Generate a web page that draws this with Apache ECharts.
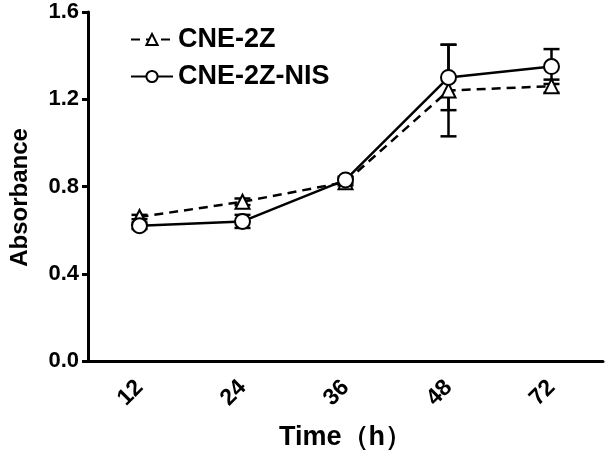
<!DOCTYPE html>
<html>
<head>
<meta charset="utf-8">
<script src="https://cdn.jsdelivr.net/npm/echarts@6/dist/echarts.min.js"></script>
<style>
  html, body { margin: 0; padding: 0; background: #fff; }
  #chart { width: 616px; height: 454px; }
</style>
</head>
<body>
<div id="chart"></div>
<script>
// 数据
const times = ["12", "24", "36", "48", "72"];
const cneMean = [0.66, 0.73, 0.82, 1.24, 1.26];
const cneSd = [0.01, 0.015, 0.015, 0.21, 0.03];
const nisMean = [0.62, 0.64, 0.83, 1.30, 1.35];
const nisSd = [0.015, 0.03, 0.015, 0.15, 0.08];

const FONT = "Liberation Sans";

// 误差棒
function errorSeries(mean, sd, z) {
  return {
    type: "custom",
    z: z,
    silent: true,
    data: mean.map((m, i) => [i, m - sd[i], m + sd[i]]),
    renderItem: function (params, api) {
      const lo = api.coord([api.value(0), api.value(1)]);
      const hi = api.coord([api.value(0), api.value(2)]);
      const hw = 8;
      const style = { stroke: "#000", lineWidth: 2.5 };
      return {
        type: "group",
        children: [
          { type: "line", shape: { x1: lo[0], y1: lo[1], x2: hi[0], y2: hi[1] }, style: style },
          { type: "line", shape: { x1: lo[0] - hw, y1: lo[1], x2: lo[0] + hw, y2: lo[1] }, style: style },
          { type: "line", shape: { x1: hi[0] - hw, y1: hi[1], x2: hi[0] + hw, y2: hi[1] }, style: style },
        ],
      };
    },
  };
}

let myChart = echarts.init(document.getElementById("chart"));
myChart.setOption({
  animation: false,
  grid: { left: 88, right: 13, top: 12, bottom: 93, outerBoundsMode: "none" },
  legend: {
    orient: "vertical",
    left: 125,
    top: 21,
    itemWidth: 42,
    itemHeight: 14,
    itemGap: 10,
    textStyle: { fontFamily: FONT, fontWeight: "bold", fontSize: 27, color: "#000" },
    data: ["CNE-2Z", "CNE-2Z-NIS"],
  },
  xAxis: {
    type: "category",
    data: times,
    boundaryGap: true,
    name: "Time（h）",
    nameLocation: "middle",
    nameGap: 63,
    nameTextStyle: { fontFamily: FONT, fontWeight: "bold", fontSize: 27, color: "#000" },
    axisLine: { lineStyle: { color: "#000", width: 3 } },
    axisTick: { alignWithLabel: true, length: 11, lineStyle: { color: "#000", width: 3 } },
    axisLabel: {
      rotate: 45,
      margin: 23,
      fontFamily: FONT,
      fontWeight: "bold",
      fontSize: 23,
      color: "#000",
    },
  },
  yAxis: {
    type: "value",
    min: 0,
    max: 1.6,
    interval: 0.4,
    name: "Absorbance",
    nameLocation: "middle",
    nameGap: 56,
    nameTextStyle: { fontFamily: FONT, fontWeight: "bold", fontSize: 24, color: "#000", padding: [0, 22, 0, 0] },
    axisLine: { show: true, lineStyle: { color: "#000", width: 3 } },
    axisTick: { show: true, length: 6, lineStyle: { color: "#000", width: 3 } },
    axisLabel: {
      margin: 9,
      fontFamily: FONT,
      fontWeight: "bold",
      fontSize: 22,
      color: "#000",
      formatter: (v) => v.toFixed(1),
    },
    splitLine: { show: false },
  },
  series: [
    errorSeries(cneMean, cneSd, 1),
    errorSeries(nisMean, nisSd, 1),
    {
      name: "CNE-2Z",
      type: "line",
      data: cneMean,
      z: 3,
      symbol: "emptyTriangle",
      symbolSize: 14,
      color: "#000",
      lineStyle: { color: "#000", width: 2.5, type: [9, 6] },
      itemStyle: { color: "#000", borderColor: "#000", borderWidth: 2.5 },
    },
    {
      name: "CNE-2Z-NIS",
      type: "line",
      data: nisMean,
      z: 4,
      symbol: "emptyCircle",
      symbolSize: 15,
      color: "#000",
      lineStyle: { color: "#000", width: 2.5 },
      itemStyle: { color: "#000", borderColor: "#000", borderWidth: 2.5 },
    },
  ],
});
</script>
</body>
</html>
